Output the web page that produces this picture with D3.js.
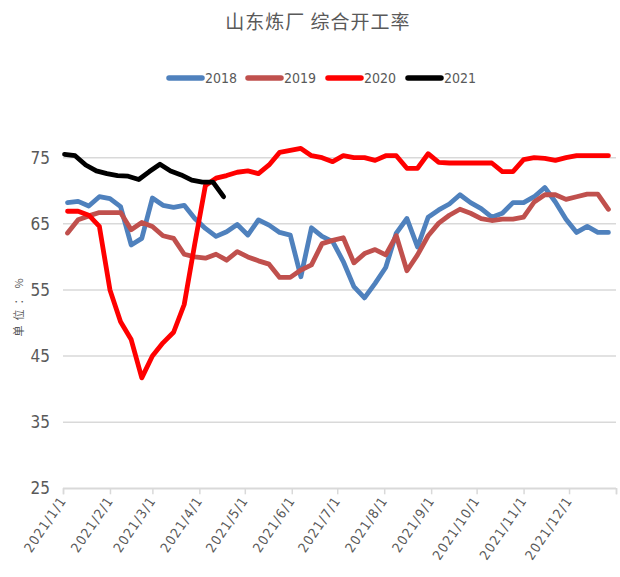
<!DOCTYPE html>
<html>
<head>
<meta charset="utf-8">
<script src="https://cdn.jsdelivr.net/npm/d3@7/dist/d3.min.js"></script>
<style>
  body { margin: 0; background: #fff; }
  svg text { fill: #595959; }
  .narrow { font-family: "Liberation Sans Narrow", "Arial Narrow", "DejaVu Sans Condensed", sans-serif; }
</style>
</head>
<body>
<div id="chart"></div>
<script>
// weekly readings, one value per week
const series2018 = [68.2, 68.4, 67.7, 69.1, 68.8, 67.6, 61.8, 62.8, 68.9, 67.8, 67.5, 67.8, 65.8, 64.3, 63.1, 63.8,
  64.9, 63.3, 65.6, 64.8, 63.7, 63.3, 57.0, 64.4, 63.1, 62.3, 59.3, 55.5, 53.8, 56.0, 58.4, 63.6,
  65.8, 61.5, 66.0, 67.1, 68.0, 69.4, 68.2, 67.3, 66.0, 66.6, 68.2, 68.2, 69.1, 70.5, 68.3, 65.7,
  63.7, 64.6, 63.7, 63.7];
const series2019 = [63.6, 65.6, 66.2, 66.7, 66.7, 66.7, 64.1, 65.2, 64.6, 63.2, 62.8, 60.4, 60.0, 59.8, 60.4, 59.5,
  60.8, 60.0, 59.4, 58.9, 56.9, 56.9, 58.0, 58.8, 62.0, 62.5, 62.9, 59.1, 60.5, 61.1, 60.3, 63.2,
  57.9, 60.3, 63.2, 65.1, 66.3, 67.2, 66.6, 65.8, 65.5, 65.7, 65.7, 66.0, 68.3, 69.4, 69.4, 68.7,
  69.1, 69.5, 69.5, 67.2];
const series2020 = [66.9, 66.9, 66.3, 64.6, 55.0, 50.2, 47.5, 41.7, 45.0, 47.0, 48.6, 52.8, 62.0, 70.8, 71.9, 72.3,
  72.8, 73.0, 72.6, 73.9, 75.8, 76.1, 76.4, 75.3, 75.0, 74.4, 75.3, 75.0, 75.0, 74.6, 75.3, 75.3,
  73.4, 73.4, 75.6, 74.3, 74.2, 74.2, 74.2, 74.2, 74.2, 72.9, 72.9, 74.7, 75.0, 74.9, 74.6, 75.0,
  75.3, 75.3, 75.3, 75.3];
const series2021 = [75.5, 75.3, 73.9, 73.0, 72.6, 72.3, 72.2, 71.7, 72.9, 74.0, 73.0, 72.4, 71.6, 71.3, 71.3, 69.1];

const seriesNames = ['2018', '2019', '2020', '2021'];
const seriesColors = ['#4F81BD', '#C0504D', '#FF0000', '#000000'];
const yTicks = [25, 35, 45, 55, 65, 75];
const monthLabels = ['2021/1/1', '2021/2/1', '2021/3/1', '2021/4/1', '2021/5/1', '2021/6/1',
  '2021/7/1', '2021/8/1', '2021/9/1', '2021/10/1', '2021/11/1', '2021/12/1'];

const firstWeek = new Date(2021, 0, 4);
const firstWeek2021 = new Date(2021, 0, 2);
const weekDates = (start, n) => d3.range(n).map(i => d3.timeDay.offset(start, i * 7));

const width = 620, height = 577;
const margin = { top: 157.7, right: 4, bottom: 88.7, left: 63 };

const svg = d3.select('#chart').append('svg')
  .attr('width', width)
  .attr('height', height);

const x = d3.scaleTime()
  .domain([new Date(2021, 0, 1), new Date(2022, 0, 1)])
  .range([margin.left, width - margin.right]);
const y = d3.scaleLinear()
  .domain([25, 75])
  .range([height - margin.bottom, margin.top]);

// title
svg.append('text')
  .attr('x', 318).attr('y', 29)
  .attr('text-anchor', 'middle')
  .style('font-family', '"Noto Sans CJK SC", sans-serif')
  .style('font-size', '19px')
  .style('letter-spacing', '1px')
  .text('山东炼厂  综合开工率');

// gridlines
svg.append('g')
  .selectAll('line')
  .data(yTicks)
  .enter().append('line')
  .attr('x1', x.range()[0]).attr('x2', x.range()[1])
  .attr('y1', d => y(d)).attr('y2', d => y(d))
  .attr('stroke', '#d9d9d9')
  .attr('stroke-width', 1.5);

// y axis labels
svg.append('g')
  .selectAll('text')
  .data(yTicks)
  .enter().append('text')
  .attr('class', 'narrow')
  .attr('x', 50)
  .attr('y', d => y(d) + 6)
  .attr('text-anchor', 'end')
  .style('font-size', '17px')
  .text(d => d);

svg.append('text')
  .attr('transform', 'translate(23,305) rotate(-90)')
  .attr('text-anchor', 'middle')
  .style('font-family', '"Noto Sans CJK SC", sans-serif')
  .style('font-size', '11px')
  .style('letter-spacing', '5px')
  .text('单位：%');

// x axis
const monthTicks = d3.timeMonth.range(new Date(2021, 0, 1), new Date(2022, 0, 2));
const xAxis = svg.append('g')
  .attr('transform', `translate(0,${y(25)})`)
  .call(d3.axisBottom(x).tickValues(monthTicks).tickSize(6).tickFormat(''));
xAxis.select('.domain').attr('stroke', '#d9d9d9').attr('stroke-width', 1.5);
xAxis.selectAll('.tick line').attr('stroke', '#d9d9d9').attr('stroke-width', 1.5);

svg.append('g')
  .selectAll('text')
  .data(monthTicks.slice(0, 12))
  .enter().append('text')
  .attr('class', 'narrow')
  .attr('transform', d => `translate(${x(d) + 4},${y(25) + 12}) rotate(-56)`)
  .attr('text-anchor', 'end')
  .style('font-size', '13.5px')
  .style('letter-spacing', '1.2px')
  .text((d, i) => monthLabels[i]);

// lines
const allSeries = [
  { name: '2018', dates: weekDates(firstWeek, series2018.length), values: series2018 },
  { name: '2019', dates: weekDates(firstWeek, series2019.length), values: series2019 },
  { name: '2020', dates: weekDates(firstWeek, series2020.length), values: series2020 },
  { name: '2021', dates: weekDates(firstWeek2021, series2021.length), values: series2021 }
];

const line = d3.line()
  .x(d => x(d[0]))
  .y(d => y(d[1]));

allSeries.forEach((s, i) => {
  svg.append('path')
    .datum(d3.zip(s.dates, s.values))
    .attr('fill', 'none')
    .attr('stroke', seriesColors[i])
    .attr('stroke-width', 4.8)
    .attr('stroke-linejoin', 'round')
    .attr('stroke-linecap', 'round')
    .attr('d', line);
});

// legend
const legendX = [167, 246, 326, 406];
const legend = svg.append('g');
seriesNames.forEach((name, i) => {
  legend.append('line')
    .attr('x1', legendX[i] + 2).attr('x2', legendX[i] + 35)
    .attr('y1', 78).attr('y2', 78)
    .attr('stroke', seriesColors[i])
    .attr('stroke-width', 5.5)
    .attr('stroke-linecap', 'round');
  legend.append('text')
    .attr('class', 'narrow')
    .attr('x', legendX[i] + 38)
    .attr('y', 83)
    .style('font-size', '14px')
    .text(name);
});
</script>
</body>
</html>
